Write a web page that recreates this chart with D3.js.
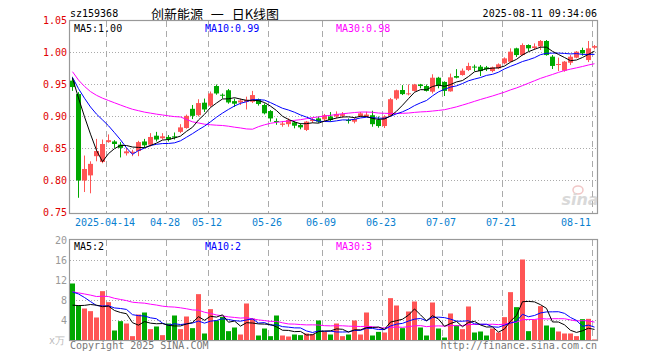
<!DOCTYPE html>
<html>
<head>
<meta charset="utf-8">
<script src="https://cdn.jsdelivr.net/npm/d3@7"></script>
<style>
  body { margin: 0; background: #fff; }
  svg text { font-family: "DejaVu Sans Mono", "Liberation Mono", monospace; font-size: 10px; }
</style>
</head>
<body>
<svg id="chart" width="660" height="360"></svg>
<script>
// trading days shown (2025)
const dates = [
  "04-03","04-07","04-08","04-09","04-10","04-11","04-14","04-15","04-16","04-17","04-18",
  "04-21","04-22","04-23","04-24","04-25","04-28","04-29","04-30","05-06","05-07","05-08","05-09",
  "05-12","05-13","05-14","05-15","05-16","05-19","05-20","05-21","05-22","05-23",
  "05-26","05-27","05-28","05-29","05-30","06-03","06-04","06-05","06-06",
  "06-09","06-10","06-11","06-12","06-13","06-16","06-17","06-18","06-19","06-20",
  "06-23","06-24","06-25","06-26","06-27","06-30","07-01","07-02","07-03","07-04",
  "07-07","07-08","07-09","07-10","07-11","07-14","07-15","07-16","07-17","07-18",
  "07-21","07-22","07-23","07-24","07-25","07-28","07-29","07-30","07-31","08-01",
  "08-04","08-05","08-06","08-07","08-08","08-11"
];

const open = [
  0.956,0.935,0.800,0.808,0.838,0.829,0.860,0.861,0.856,0.8425,0.843,
  0.846,0.861,0.856,0.870,0.866,0.868,0.869,0.876,0.882,0.912,0.902,0.9216,
  0.917,0.9476,0.934,0.941,0.924,0.922,0.923,0.923,0.927,0.918,
  0.9085,0.893,0.887,0.888,0.8908,0.8867,0.879,0.893,0.897,
  0.8955,0.900,0.900,0.901,0.8945,0.8919,0.9007,0.900,0.902,0.8945,
  0.8851,0.901,0.928,0.9414,0.9356,0.940,0.950,0.9476,0.9388,0.9606,
  0.954,0.9393,0.9632,0.9648,0.9726,0.978,0.9778,0.9768,0.971,0.9752,
  0.983,0.9856,1.0065,0.996,1.0117,1.007,1.0095,1.018,0.9935,0.981,
  0.9716,0.984,0.9919,1.0039,0.9882,1.0075
];
const high = [
  0.962,0.938,0.839,0.830,0.865,0.864,0.872,0.863,0.860,0.851,0.848,
  0.862,0.865,0.874,0.876,0.874,0.871,0.875,0.888,0.903,0.918,0.927,0.928,
  0.939,0.950,0.936,0.943,0.928,0.928,0.931,0.940,0.928,0.9205,
  0.910,0.897,0.893,0.897,0.893,0.8893,0.893,0.898,0.900,
  0.904,0.907,0.908,0.907,0.897,0.898,0.907,0.9075,0.909,0.900,
  0.902,0.929,0.942,0.949,0.950,0.951,0.951,0.950,0.966,0.962,
  0.955,0.967,0.974,0.975,0.984,0.981,0.9804,0.979,0.978,0.983,
  0.9924,1.0065,1.0075,1.0143,1.0127,1.0143,1.0195,1.0195,0.996,0.992,
  0.9867,0.996,1.0023,1.0075,1.018,1.0117
];
const low = [
  0.940,0.773,0.782,0.780,0.830,0.827,0.859,0.851,0.836,0.839,0.838,
  0.838,0.851,0.853,0.861,0.864,0.861,0.864,0.874,0.881,0.896,0.900,0.907,
  0.915,0.934,0.928,0.920,0.915,0.918,0.911,0.921,0.917,0.9033,
  0.892,0.887,0.884,0.884,0.8815,0.880,0.8773,0.890,0.890,
  0.893,0.892,0.897,0.8981,0.889,0.8893,0.899,0.899,0.884,0.8825,
  0.882,0.8997,0.9257,0.9335,0.933,0.939,0.944,0.939,0.936,0.944,
  0.932,0.9388,0.9596,0.9638,0.971,0.971,0.9632,0.971,0.969,0.974,
  0.9815,0.985,0.993,0.995,1.002,1.004,1.004,0.995,0.9742,0.971,
  0.970,0.9804,0.991,0.995,0.985,1.005
];
const close = [
  0.946,0.800,0.818,0.826,0.846,0.857,0.863,0.857,0.851,0.8455,0.845,
  0.860,0.855,0.868,0.864,0.869,0.864,0.867,0.883,0.901,0.901,0.921,0.911,
  0.936,0.936,0.933,0.922,0.920,0.925,0.926,0.9335,0.9195,0.905,
  0.897,0.8915,0.889,0.8945,0.8856,0.883,0.892,0.8955,0.892,
  0.902,0.8945,0.904,0.9037,0.893,0.896,0.9049,0.903,0.888,0.8851,
  0.900,0.927,0.941,0.935,0.9362,0.950,0.9476,0.940,0.9606,0.9476,
  0.940,0.9612,0.9606,0.9716,0.9789,0.977,0.971,0.974,0.9768,0.9815,
  0.9908,1.0013,0.996,1.0117,1.0065,1.0095,1.018,0.996,0.979,0.982,
  0.9857,0.9934,1.0013,0.9987,1.0065,1.010
];
// volume, in 万 lots
const volume = [
  11.4,7.07,6.4,5.87,4.6,9.87,7.67,2.0,3.87,3.4,0.87,
  5.2,5.6,2.27,2.8,1.07,3.4,5.0,2.27,4.8,2.47,9.27,1.4,
  6.27,4.0,4.73,1.87,2.6,1.2,7.4,4.4,1.0,2.4,
  0.87,5.0,1.0,0.8,1.2,1.07,1.4,1.27,4.0,
  1.73,1.2,3.4,0.87,1.2,4.0,1.2,5.6,1.0,1.73,
  1.6,8.47,7.0,2.47,5.8,7.8,2.6,1.0,7.6,2.4,
  0.6,5.4,3.07,2.27,6.8,1.6,1.8,1.0,2.4,1.6,
  4.67,9.67,6.67,16.2,1.87,4.2,6.87,3.0,2.6,1.8,
  1.4,1.4,0.87,4.27,4.33,0.2
];
// closes / volumes before the first visible day (only feed the moving averages)
const priorCloses = [1.018,1.012,0.975,0.968,0.962,0.958,0.947,0.955,0.965,0.962,0.972];
const priorVolumes = [10.5,9.3,11.0,13.5,14.0,12.5,10.65,7.5,6.2,5.0,5.25];

const tickDates = ["04-14","04-28","05-12","05-26","06-09","06-23","07-07","07-21","08-11"];
const tickLabels = ["2025-04-14","04-28","05-12","05-26","06-09","06-23","07-07","07-21","08-11"];
const priceTicks = [0.75,0.80,0.85,0.90,0.95,1.00,1.05];
const volumeTicks = [4,8,12,16,20];
const maPeriods = [5,10,30];

const symbol = "sz159368";
const title = "创新能源 一 日K线图";
const stamp = "2025-08-11 09:34:06";

const svg = d3.select('#chart');
const left = 70, right = 597;
const mainTop = 21, mainBottom = 213;
const volTop = 240, volBottom = 340;
const red = '#ff5555', green = '#00a800';
const maColors = ['#000000', '#0000ff', '#ff00ff'];

const x = d3.scaleBand()
  .domain(dates)
  .range([left - 0.5, left - 0.5 + 6 * dates.length])
  .paddingInner(1 / 6)
  .paddingOuter(1 / 12);
const bw = x.bandwidth();

const y = d3.scaleLinear().domain([0.75, 1.05]).range([mainBottom - 0.5, mainTop - 0.5]);
const vy = d3.scaleLinear().domain([0, 20]).range([volBottom + 0.5, volTop + 0.5]);

// moving average, partial window while history is short
function movingAvg(prior, values, n) {
  const all = prior.concat(values);
  return values.map((v, i) => {
    const end = prior.length + i + 1;
    const win = all.slice(Math.max(0, end - n), end);
    return d3.mean(win);
  });
}
const priceMA = maPeriods.map(n => movingAvg(priorCloses, close, n));
const volMA = maPeriods.map(n => movingAvg(priorVolumes, volume, n));

const candles = dates.map((d, i) => ({ d, o: open[i], h: high[i], l: low[i], c: close[i], v: volume[i] }));

// header
svg.append('text').attr('x', left).attr('y', 17).attr('fill', '#000').text(symbol);
svg.append('text').attr('x', 215).attr('y', 19).attr('text-anchor', 'middle')
  .style('font-family', '"Noto Sans CJK SC", sans-serif').style('font-size', '13px')
  .style('word-spacing', '5px')
  .attr('fill', '#000').text(title);
svg.append('text').attr('x', right).attr('y', 17).attr('text-anchor', 'end').attr('fill', '#000').text(stamp);

// grids
const gridG = svg.append('g');
gridG.selectAll('line.hp')
  .data(priceTicks.filter(t => t > 0.76 && t < 1.04))
  .join('line')
  .attr('x1', left).attr('x2', right)
  .attr('y1', d => y(d)).attr('y2', d => y(d))
  .attr('stroke', '#aaa').attr('stroke-dasharray', '1,2');
gridG.selectAll('line.hv')
  .data(volumeTicks.filter(t => t < 20))
  .join('line')
  .attr('x1', left).attr('x2', right)
  .attr('y1', d => vy(d)).attr('y2', d => vy(d))
  .attr('stroke', '#aaa').attr('stroke-dasharray', '1,2');
tickDates.forEach(d => {
  const xx = x(d) + 0.5;
  [[mainTop, mainBottom], [volTop, volBottom]].forEach(([a, b]) => {
    gridG.append('line')
      .attr('x1', xx).attr('x2', xx).attr('y1', a).attr('y2', b)
      .attr('stroke', '#aaa').attr('stroke-dasharray', '6,4');
  });
});

// frames
[[mainTop, mainBottom], [volTop, volBottom]].forEach(([a, b]) => {
  svg.append('rect')
    .attr('x', left - 0.5).attr('y', a - 0.5)
    .attr('width', right - left + 1).attr('height', b - a + 1)
    .attr('fill', 'none').attr('stroke', '#999').attr('stroke-width', 1.2);
});

// price labels
svg.append('g').selectAll('text')
  .data(priceTicks)
  .join('text')
  .attr('x', 67).attr('y', d => y(d)).attr('dy', '0.35em')
  .attr('text-anchor', 'end').attr('fill', '#e00000')
  .text(d => d.toFixed(2));
svg.append('g').selectAll('text')
  .data(volumeTicks)
  .join('text')
  .attr('x', 67).attr('y', d => vy(d)).attr('dy', '0.35em')
  .attr('text-anchor', 'end').attr('fill', '#999')
  .text(d => d);
svg.append('text').attr('x', 49).attr('y', 344).attr('fill', '#bbb').text('x万');

// date labels
tickDates.forEach((d, i) => {
  const last = i === tickDates.length - 1;
  svg.append('text')
    .attr('x', last ? 591 : x(d) - 1)
    .attr('y', 226)
    .attr('text-anchor', last ? 'end' : 'middle')
    .attr('fill', '#0a7fd0')
    .text(tickLabels[i]);
});

// sina watermark
const wm = svg.append('g').attr('opacity', 0.55);
wm.append('ellipse').attr('cx', 578).attr('cy', 190).attr('rx', 5).attr('ry', 4)
  .attr('fill', 'none').attr('stroke', '#e79a9a').attr('stroke-width', 1.5);
wm.append('text').attr('x', 580).attr('y', 205).attr('text-anchor', 'middle')
  .style('font-family', '"DejaVu Sans", sans-serif').style('font-size', '16px')
  .style('font-style', 'italic').style('font-weight', 'bold')
  .attr('fill', '#bbb').text('sina');

// candles
const clip = svg.append('clipPath').attr('id', 'mainClip')
  .append('rect').attr('x', left).attr('y', mainTop).attr('width', right - left).attr('height', mainBottom - mainTop);
const cg = svg.append('g').attr('clip-path', 'url(#mainClip)');
const candleG = cg.selectAll('g.candle').data(candles).join('g');
candleG.append('line')
  .attr('x1', d => x(d.d) + 2.5).attr('x2', d => x(d.d) + 2.5)
  .attr('y1', d => y(d.h)).attr('y2', d => y(d.l))
  .attr('stroke', d => d.c >= d.o ? red : green);
candleG.append('rect')
  .attr('x', d => x(d.d)).attr('width', bw)
  .attr('y', d => y(Math.max(d.o, d.c)))
  .attr('height', d => Math.max(1, Math.abs(y(d.o) - y(d.c))))
  .attr('fill', d => d.c >= d.o ? red : green);

// volume bars
svg.append('g').selectAll('rect')
  .data(candles)
  .join('rect')
  .attr('x', d => x(d.d)).attr('width', bw)
  .attr('y', d => vy(d.v)).attr('height', d => volBottom - vy(d.v))
  .attr('fill', d => d.c >= d.o ? red : green);

// moving average lines
const lineFor = scale => d3.line().x((v, i) => x(dates[i]) + 2.5).y(v => scale(v));
[2, 1, 0].forEach(k => {
  cg.append('path').attr('d', lineFor(y)(priceMA[k]))
    .attr('fill', 'none').attr('stroke', maColors[k]).attr('stroke-width', 1);
  svg.append('path').attr('d', lineFor(vy)(volMA[k]))
    .attr('fill', 'none').attr('stroke', maColors[k]).attr('stroke-width', 1);
});

// MA legends
const floorTo = (v, p) => Math.floor(v * Math.pow(10, p) + 1e-9) / Math.pow(10, p);
const legendX = [74, 205, 336];
maPeriods.forEach((n, k) => {
  const pv = priceMA[k][priceMA[k].length - 1];
  const vv = volMA[k][volMA[k].length - 1];
  svg.append('text').attr('x', legendX[k]).attr('y', 32).attr('fill', maColors[k])
    .text('MA' + n + ':' + floorTo(pv, 2).toFixed(2));
  svg.append('text').attr('x', legendX[k]).attr('y', 250).attr('fill', maColors[k])
    .text('MA' + n + ':' + Math.floor(vv));
});

// footer
svg.append('text').attr('x', left).attr('y', 349).attr('fill', '#777').text('Copyright 2025 SINA.COM');
svg.append('text').attr('x', right).attr('y', 349).attr('text-anchor', 'end').attr('fill', '#777').text('http://finance.sina.com.cn');
</script>
</body>
</html>
